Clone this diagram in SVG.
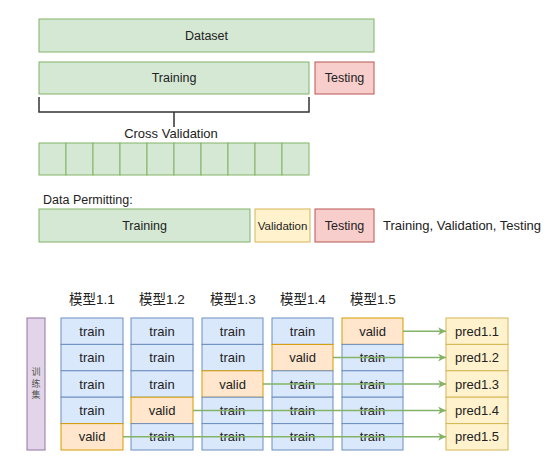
<svg xmlns="http://www.w3.org/2000/svg" width="552" height="463" viewBox="0 0 552 463">
<style>
text{font-family:"Liberation Sans",Arial,sans-serif;fill:#222;}
.g{fill:#d5e8d4;stroke:#82b366;}
.r{fill:#f8cecc;stroke:#b85450;}
.y{fill:#fff2cc;stroke:#d6b656;}
.b{fill:#dae8fc;stroke:#6c8ebf;}
.o{fill:#ffe6cc;stroke:#d79b00;}
.p{fill:#e1d5e7;stroke:#9673a6;}
.t12{font-size:12.5px;text-anchor:middle;}
.t13{font-size:13px;text-anchor:middle;}
.h{font-size:13.5px;text-anchor:middle;font-family:"Liberation Sans","Noto Sans CJK SC",sans-serif;}
.v{font-size:9px;text-anchor:middle;font-family:"Noto Sans CJK SC",sans-serif;fill:#555;}
.arr{stroke:#82b366;stroke-width:1.5;fill:none;marker-end:url(#ah);}
</style>
<defs>
<marker id="ah" viewBox="0 0 10 10" refX="10" refY="5" markerWidth="8" markerHeight="8" markerUnits="userSpaceOnUse" orient="auto">
<path d="M0,0 L10,5 L0,10 L3,5 Z" fill="#82b366"/>
</marker>
</defs>
<rect width="552" height="463" fill="#fff"/>
<g id="dataset"><rect class="g" x="39" y="19" width="335" height="33"/><text class="t12" x="206.5" y="40">Dataset</text></g>
<g id="training1"><rect class="g" x="39" y="62" width="270" height="32"/><text class="t12" x="174" y="82">Training</text></g>
<g id="testing1"><rect class="r" x="315" y="62" width="59" height="32"/><text class="t12" x="344.5" y="82">Testing</text></g>
<g id="bracket"><path d="M39,97 V112 H309 V97 M174,112 V127" fill="none" stroke="#333" stroke-width="1.5"/><text x="171" y="138" font-size="13" text-anchor="middle">Cross Validation</text></g>
<g id="cv-cells">
<rect class="g" x="39" y="143" width="27" height="32"/>
<rect class="g" x="66" y="143" width="27" height="32"/>
<rect class="g" x="93" y="143" width="27" height="32"/>
<rect class="g" x="120" y="143" width="27" height="32"/>
<rect class="g" x="147" y="143" width="27" height="32"/>
<rect class="g" x="174" y="143" width="27" height="32"/>
<rect class="g" x="201" y="143" width="27" height="32"/>
<rect class="g" x="228" y="143" width="27" height="32"/>
<rect class="g" x="255" y="143" width="27" height="32"/>
<rect class="g" x="282" y="143" width="27" height="32"/>
</g>
<g id="dp-label"><text x="43" y="204" font-size="12.5">Data Permitting:</text></g>
<g id="training2"><rect class="g" x="39" y="209" width="211" height="33"/><text class="t12" x="144.5" y="230">Training</text></g>
<g id="validation2"><rect class="y" x="255" y="209" width="55" height="33"/><text x="282.5" y="230" font-size="11.5" text-anchor="middle">Validation</text></g>
<g id="testing2"><rect class="r" x="315" y="209" width="59" height="33"/><text class="t12" x="344.5" y="230">Testing</text></g>
<g id="tvt-label"><text x="383" y="230" font-size="13">Training, Validation, Testing</text></g>

<g id="headers">
<text class="h" x="92" y="304">模型1.1</text>
<text class="h" x="162" y="304">模型1.2</text>
<text class="h" x="233" y="304">模型1.3</text>
<text class="h" x="303" y="304">模型1.4</text>
<text class="h" x="373" y="304">模型1.5</text>
</g>
<g id="trainset"><rect class="p" x="27" y="318" width="18" height="132"/>
<text class="v" x="36" y="375">训</text>
<text class="v" x="36" y="386.5">练</text>
<text class="v" x="36" y="398">集</text>
</g>
<g id="model1-1">
<rect class="b" x="61" y="318" width="62" height="26.4"/><text class="t13" x="92" y="336">train</text>
<rect class="b" x="61" y="344.4" width="62" height="26.4"/><text class="t13" x="92" y="362">train</text>
<rect class="b" x="61" y="370.8" width="62" height="26.4"/><text class="t13" x="92" y="389">train</text>
<rect class="b" x="61" y="397.2" width="62" height="26.4"/><text class="t13" x="92" y="415">train</text>
<rect class="o" x="61" y="423.6" width="62" height="26.4"/><text class="t13" x="92" y="441">valid</text>
</g>
<g id="model1-2">
<rect class="b" x="131" y="318" width="62" height="26.4"/><text class="t13" x="162" y="336">train</text>
<rect class="b" x="131" y="344.4" width="62" height="26.4"/><text class="t13" x="162" y="362">train</text>
<rect class="b" x="131" y="370.8" width="62" height="26.4"/><text class="t13" x="162" y="389">train</text>
<rect class="o" x="131" y="397.2" width="62" height="26.4"/><text class="t13" x="162" y="415">valid</text>
<rect class="b" x="131" y="423.6" width="62" height="26.4"/><text class="t13" x="162" y="441">train</text>
</g>
<g id="model1-3">
<rect class="b" x="202" y="318" width="61" height="26.4"/><text class="t13" x="232.5" y="336">train</text>
<rect class="b" x="202" y="344.4" width="61" height="26.4"/><text class="t13" x="232.5" y="362">train</text>
<rect class="o" x="202" y="370.8" width="61" height="26.4"/><text class="t13" x="232.5" y="389">valid</text>
<rect class="b" x="202" y="397.2" width="61" height="26.4"/><text class="t13" x="232.5" y="415">train</text>
<rect class="b" x="202" y="423.6" width="61" height="26.4"/><text class="t13" x="232.5" y="441">train</text>
</g>
<g id="model1-4">
<rect class="b" x="272" y="318" width="61" height="26.4"/><text class="t13" x="302.5" y="336">train</text>
<rect class="o" x="272" y="344.4" width="61" height="26.4"/><text class="t13" x="302.5" y="362">valid</text>
<rect class="b" x="272" y="370.8" width="61" height="26.4"/><text class="t13" x="302.5" y="389">train</text>
<rect class="b" x="272" y="397.2" width="61" height="26.4"/><text class="t13" x="302.5" y="415">train</text>
<rect class="b" x="272" y="423.6" width="61" height="26.4"/><text class="t13" x="302.5" y="441">train</text>
</g>
<g id="model1-5">
<rect class="o" x="342" y="318" width="61" height="26.4"/><text class="t13" x="372.5" y="336">valid</text>
<rect class="b" x="342" y="344.4" width="61" height="26.4"/><text class="t13" x="372.5" y="362">train</text>
<rect class="b" x="342" y="370.8" width="61" height="26.4"/><text class="t13" x="372.5" y="389">train</text>
<rect class="b" x="342" y="397.2" width="61" height="26.4"/><text class="t13" x="372.5" y="415">train</text>
<rect class="b" x="342" y="423.6" width="61" height="26.4"/><text class="t13" x="372.5" y="441">train</text>
</g>
<g id="preds">
<rect class="y" x="446" y="318" width="62" height="26.4"/><text class="t13" x="477" y="336">pred1.1</text>
<rect class="y" x="446" y="344.4" width="62" height="26.4"/><text class="t13" x="477" y="362">pred1.2</text>
<rect class="y" x="446" y="370.8" width="62" height="26.4"/><text class="t13" x="477" y="389">pred1.3</text>
<rect class="y" x="446" y="397.2" width="62" height="26.4"/><text class="t13" x="477" y="415">pred1.4</text>
<rect class="y" x="446" y="423.6" width="62" height="26.4"/><text class="t13" x="477" y="441">pred1.5</text>
</g>
<g id="connectors">
<path class="arr" d="M403,331.2 H446"/>
<path class="arr" d="M333,357.6 H446"/>
<path class="arr" d="M263,384 H446"/>
<path class="arr" d="M193,410.4 H446"/>
<path class="arr" d="M123,436.8 H446"/>
</g>
</svg>
